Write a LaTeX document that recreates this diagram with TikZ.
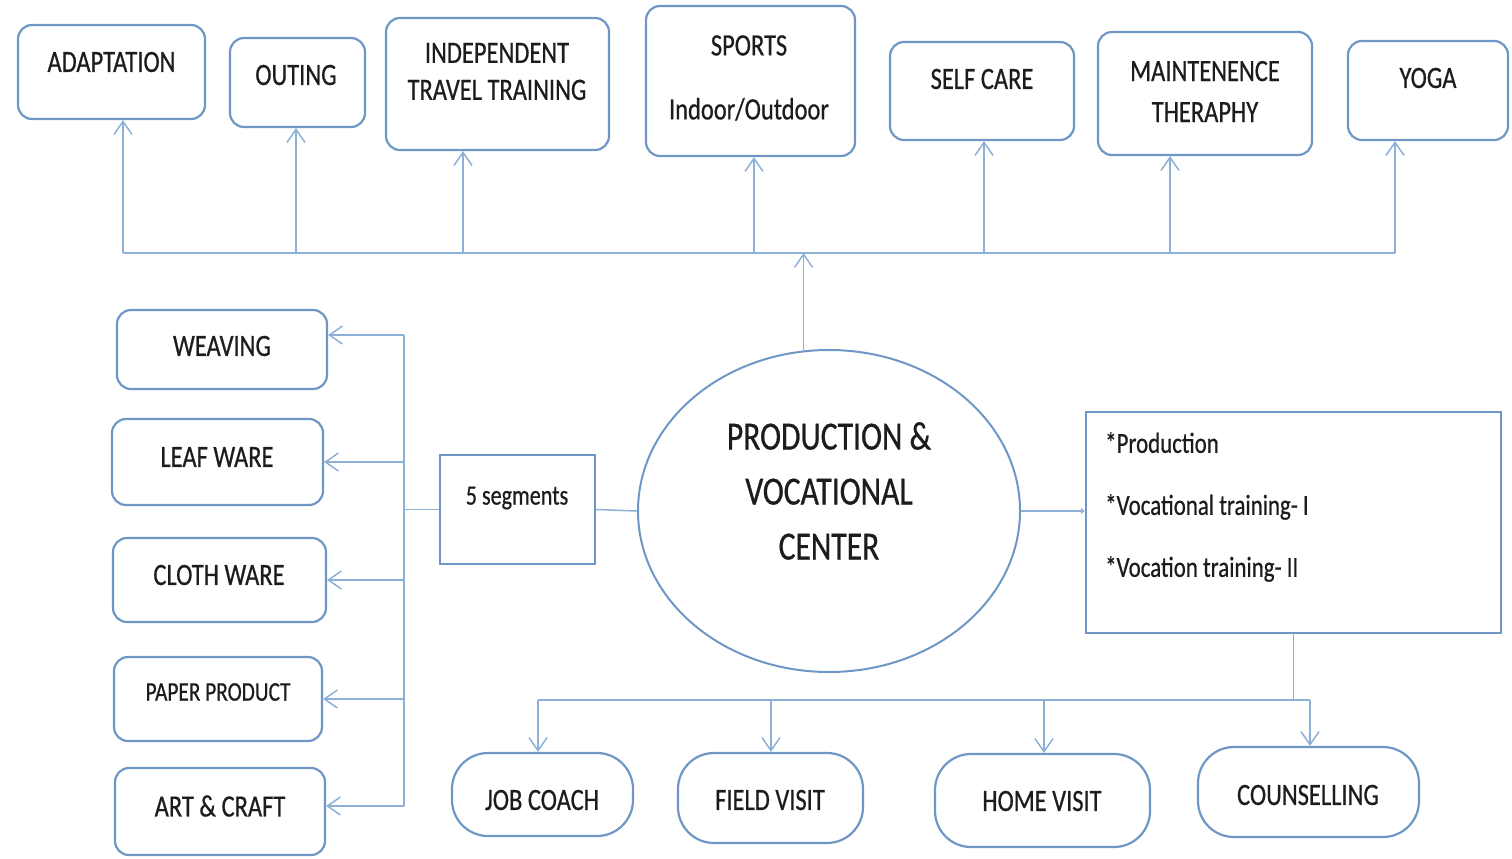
\documentclass[tikz,border=0pt]{standalone}
\usepackage{fontspec}
\setmainfont{Carlito}[FakeStretch=0.79, FakeBold=0.6]
\usetikzlibrary{arrows.meta,shapes.geometric}
\definecolor{boxblue}{HTML}{6F97C6}
\definecolor{linkblue}{HTML}{8DB0D9}
\definecolor{txt}{HTML}{1C1C1C}
\tikzset{
  rbox/.style={draw=boxblue, line width=2.2pt, rounded corners=14pt, inner sep=0pt},
  pill/.style={draw=boxblue, line width=2.2pt, rounded corners=36pt, inner sep=0pt},
  sqbox/.style={draw=boxblue, line width=2.2pt, inner sep=0pt},
  oval/.style={draw=boxblue, line width=2pt, ellipse, inner sep=0pt},
  lbl/.style={text=txt, font=\fontsize{31}{37}\selectfont, inner sep=0pt, align=center},
  link/.style={draw=linkblue, line width=1.5pt},
  arr/.style={link, -{Straight Barb[length=13pt, width=18pt]}},
}
\begin{document}
\begin{tikzpicture}[x=1pt, y=-1pt]
\useasboundingbox (0,0) rectangle (1512,859);

% top row
\node[rbox, minimum width=187pt, minimum height=94pt] (adapt) at (111.5,72) {};
\node[lbl] (adaptT) at (111.5,62) {ADAPTATION};
\node[rbox, minimum width=135pt, minimum height=89pt] (outing) at (297.5,82.5) {};
\node[lbl] (outingT) at (296,75) {OUTING};
\node[rbox, minimum width=223pt, minimum height=132pt] (itt) at (497.5,84) {};
\node[lbl] (ittT) at (497,71.5) {INDEPENDENT\\TRAVEL TRAINING};
\node[rbox, minimum width=209pt, minimum height=150pt] (sports) at (750.5,81) {};
\node[lbl, font=\fontsize{31}{64}\selectfont] (sportsT) at (749,78) {SPORTS\\Indoor/Outdoor};
\node[rbox, minimum width=184pt, minimum height=98pt] (self) at (982,91) {};
\node[lbl] (selfT) at (982,79) {SELF CARE};
\node[rbox, minimum width=214pt, minimum height=123pt] (maint) at (1205,93.5) {};
\node[lbl, font=\fontsize{31}{41}\selectfont] (maintT) at (1205,91.5) {MAINTENENCE\\THERAPHY};
\node[rbox, minimum width=160pt, minimum height=99pt] (yoga) at (1428,90.5) {};
\node[lbl] (yogaT) at (1428,78) {YOGA};

% left column
\node[rbox, minimum width=210pt, minimum height=79pt] (weave) at (222,349.5) {};
\node[lbl] (weaveT) at (222,346) {WEAVING};
\node[rbox, minimum width=211pt, minimum height=86pt] (leaf) at (217.5,462) {};
\node[lbl] (leafT) at (217,457) {LEAF WARE};
\node[rbox, minimum width=213pt, minimum height=84pt] (cloth) at (219.5,580) {};
\node[lbl] (clothT) at (219,575) {CLOTH WARE};
\node[rbox, minimum width=208pt, minimum height=84pt] (paper) at (218,699) {};
\node[lbl, font=\fontsize{27}{32}\selectfont] (paperT) at (218,692) {PAPER PRODUCT};
\node[rbox, minimum width=210pt, minimum height=87pt] (art) at (220,811.5) {};
\node[lbl] (artT) at (220,806) {ART \& CRAFT};

% centre
\node[sqbox, minimum width=155pt, minimum height=109pt] (seg) at (517.5,509.5) {};
\node[lbl, font=\fontsize{28}{33}\selectfont] (segT) at (517,498) {5 segments};
\node[oval, minimum width=382pt, minimum height=322pt] (pvc) at (829,511) {};
\node[lbl, font=\fontsize{40}{55}\selectfont] (pvcT) at (829,491) {PRODUCTION \&\\VOCATIONAL\\CENTER};
\node[sqbox, minimum width=415pt, minimum height=221pt] (info) at (1293.5,522.5) {};
\node[lbl, font=\fontsize{29}{62}\selectfont, align=left, anchor=west] (infoT) at (1105,507)
  {*Production\\*Vocational training- I\\*Vocation training- II};

% bottom row
\node[pill, minimum width=181pt, minimum height=83pt] (job) at (542.5,794.5) {};
\node[lbl] (jobT) at (542,800) {JOB COACH};
\node[pill, minimum width=185pt, minimum height=90pt] (field) at (770.5,798) {};
\node[lbl] (fieldT) at (770,800) {FIELD VISIT};
\node[pill, minimum width=215pt, minimum height=93pt] (home) at (1042.5,800.5) {};
\node[lbl] (homeT) at (1042,801) {HOME VISIT};
\node[pill, minimum width=221pt, minimum height=90pt] (couns) at (1308.5,792) {};
\node[lbl] (counsT) at (1308,795) {COUNSELLING};

% top bus
\coordinate (t1) at (123,253);
\coordinate (t2) at (296,253);
\coordinate (t3) at (463,253);
\coordinate (t4) at (754,253);
\coordinate (t5) at (984,253);
\coordinate (t6) at (1170,253);
\coordinate (t7) at (1395,253);
\draw[link] (t1) -- (t7);
\draw[arr] (t1) -- (t1 |- adapt.south);
\draw[arr] (t2) -- (t2 |- outing.south);
\draw[arr] (t3) -- (t3 |- itt.south);
\draw[arr] (t4) -- (t4 |- sports.south);
\draw[arr] (t5) -- (t5 |- self.south);
\draw[arr] (t6) -- (t6 |- maint.south);
\draw[arr] (t7) -- (t7 |- yoga.south);
\draw[arr] (pvc.99.5) -- (pvc.99.5 |- t1);

% left bus
\coordinate (lT) at (404,335);
\coordinate (lB) at (404,806);
\draw[link] (lT) -- (lB);
\draw[arr] (lT) -- (lT -| weave.east);
\draw[arr] (lT |- leaf.east) -- (leaf.east);
\draw[arr] (lT |- cloth.east) -- (cloth.east);
\draw[arr] (lT |- paper.east) -- (paper.east);
\draw[arr] (lB) -- (lB -| art.east);
\draw[link] (lT |- seg.west) -- (seg.west);
\draw[link] (seg.east) -- (pvc.west);
\draw[link, -{Latex[length=4pt, width=7pt]}] (pvc.east) -- (pvc.east -| info.west);

% bottom bus
\coordinate (b0) at (1293.5,700);
\coordinate (b1) at (538,700);
\coordinate (b2) at (771,700);
\coordinate (b3) at (1044,700);
\coordinate (b4) at (1310,700);
\draw[link] (info.south) -- (b0);
\draw[link] (b1) -- (b4);
\draw[arr] (b1) -- (b1 |- job.north);
\draw[arr] (b2) -- (b2 |- field.north);
\draw[arr] (b3) -- (b3 |- home.north);
\draw[arr] (b4) -- (b4 |- couns.north);
\end{tikzpicture}
\end{document}
